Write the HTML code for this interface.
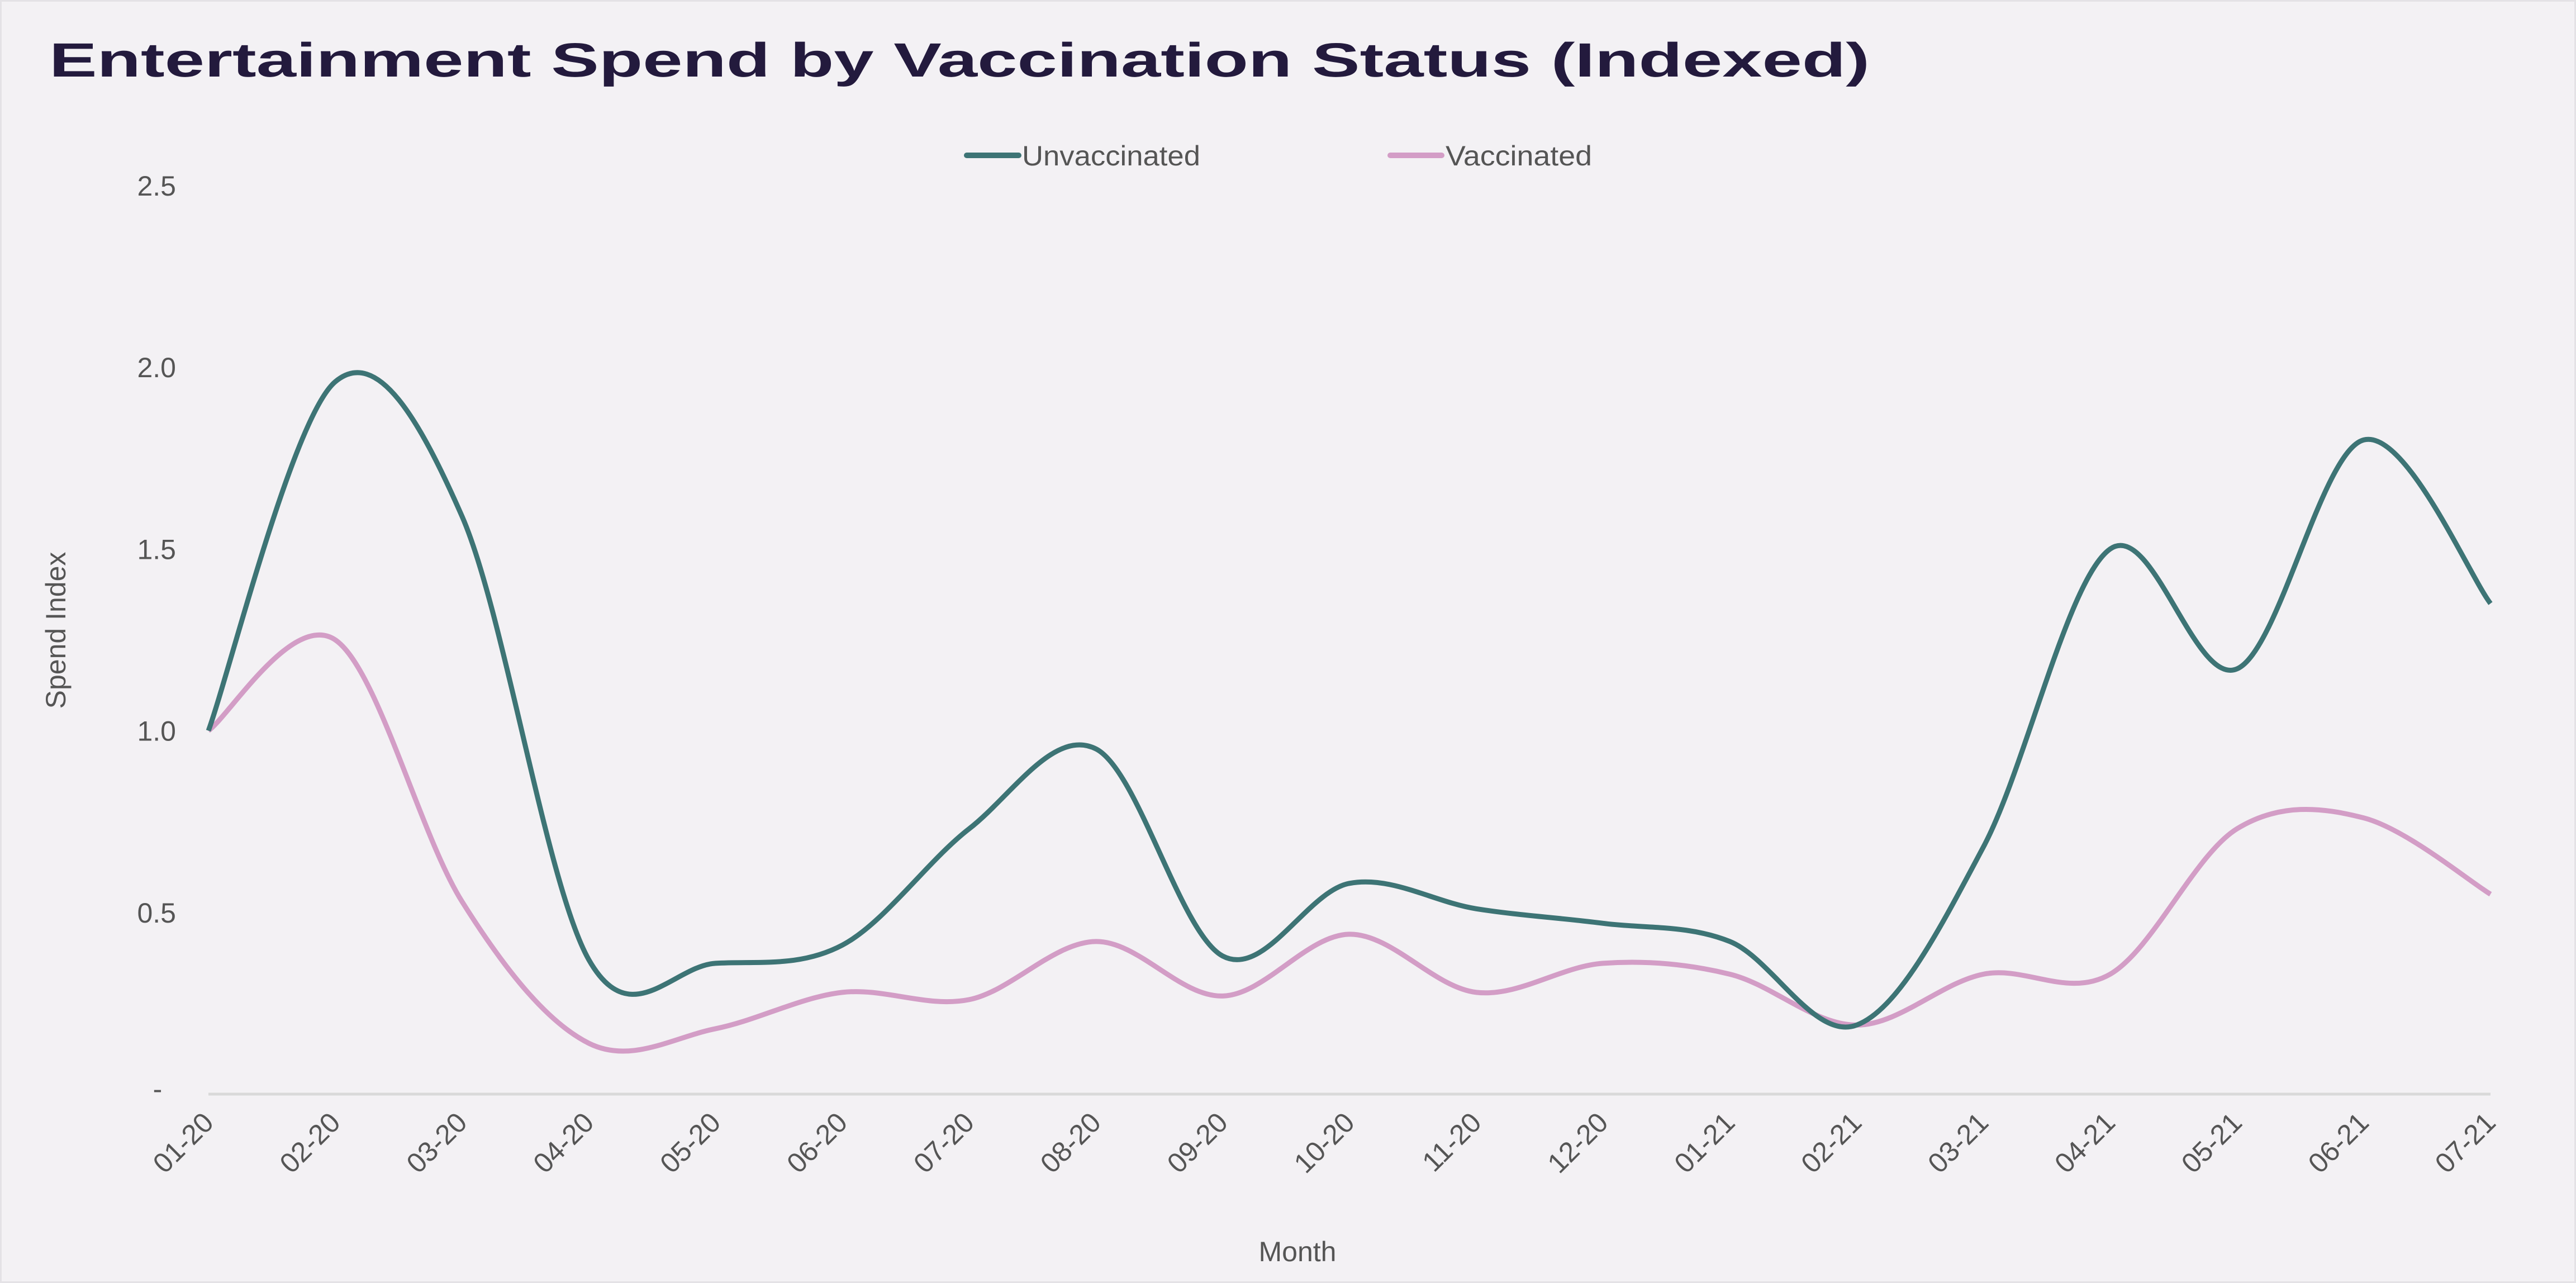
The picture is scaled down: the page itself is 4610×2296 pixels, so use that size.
<!DOCTYPE html>
<html><head><meta charset="utf-8"><style>
html,body{margin:0;padding:0;background:#f3f1f4;}
svg{display:block;font-family:"Liberation Sans",sans-serif;}
</style></head><body>
<svg id="chart" width="4610" height="2296" viewBox="0 0 4610 2296">
<rect x="0" y="0" width="4610" height="2296" fill="#f3f1f4" stroke="#e4e2e6" stroke-width="6"/>
<text x="88" y="137" font-size="86" font-weight="bold" fill="#231a3d" textLength="3258" lengthAdjust="spacingAndGlyphs">Entertainment Spend by Vaccination Status (Indexed)</text>
<g>
<g>
<line x1="1730" y1="278" x2="1823" y2="278" stroke="#3d7475" stroke-width="10" stroke-linecap="round"/>
<text x="1829" y="296" font-size="50" fill="#555" textLength="319" lengthAdjust="spacingAndGlyphs">Unvaccinated</text>
</g>
<g>
<line x1="2488" y1="278" x2="2580" y2="278" stroke="#d39dc6" stroke-width="10" stroke-linecap="round"/>
<text x="2587" y="296" font-size="50" fill="#555" textLength="262" lengthAdjust="spacingAndGlyphs">Vaccinated</text>
</g>
</g>
<g id="yticks"></g>
<g id="xticks"></g>
<line x1="373" y1="1958" x2="4457" y2="1958" stroke="#d9d9d9" stroke-width="5"/>
<g id="series"></g>
<text x="2322" y="2257" font-size="50" fill="#555" text-anchor="middle">Month</text>
<text transform="translate(117,1128) rotate(-90)" font-size="50" fill="#555" text-anchor="middle">Spend Index</text>
</svg>
<script>
const months = ["01-20","02-20","03-20","04-20","05-20","06-20","07-20","08-20","09-20","10-20","11-20","12-20","01-21","02-21","03-21","04-21","05-21","06-21","07-21"];
const unvaccinated = [1.0,1.96,1.59,0.37,0.36,0.41,0.73,0.95,0.38,0.58,0.51,0.47,0.42,0.19,0.68,1.50,1.17,1.80,1.35];
const vaccinated = [1.0,1.25,0.53,0.14,0.18,0.28,0.26,0.42,0.27,0.44,0.28,0.36,0.33,0.19,0.33,0.33,0.73,0.76,0.55];
const yTickValues = [0,0.5,1.0,1.5,2.0,2.5];
const yTickLabels = ["-","0.5","1.0","1.5","2.0","2.5"];

const NS = "http://www.w3.org/2000/svg";
const x0 = 373, x1 = 4457, yBase = 1958, yTop = 332, yMax = 2.5;
function xScale(i){ return x0 + i*(x1-x0)/(months.length-1); }
function yScale(v){ return yBase - v*(yBase-yTop)/yMax; }

const yt = document.getElementById('yticks');
yTickValues.forEach((v,i)=>{
  const t = document.createElementNS(NS,'text');
  t.setAttribute('x', 315);
  t.setAttribute('y', yScale(v) + (i===0 ? 8 : 18));
  t.setAttribute('font-size', 50);
  t.setAttribute('fill', '#555');
  t.setAttribute('text-anchor', i===0 ? 'middle' : 'end');
  if(i===0) t.setAttribute('x', 282);
  t.textContent = yTickLabels[i];
  
  
  yt.appendChild(t);
});

const xt = document.getElementById('xticks');
months.forEach((m,i)=>{
  const t = document.createElementNS(NS,'text');
  const x = xScale(i) + 12, y = 2012;
  t.setAttribute('transform', `translate(${x},${y}) rotate(-45)`);
  t.setAttribute('font-size', 50);
  t.setAttribute('fill', '#555');
  t.setAttribute('text-anchor', 'end');
  t.textContent = m;
  
  
  xt.appendChild(t);
});

function smoothPath(vals){
  const p = vals.map((v,i)=>[xScale(i), yScale(v)]);
  let d = `M${p[0][0]},${p[0][1]}`;
  for(let i=0;i<p.length-1;i++){
    const a = p[Math.max(i-1,0)], b = p[i], c = p[i+1], e = p[Math.min(i+2,p.length-1)];
    const c1x = b[0] + (c[0]-a[0])/6, c1y = b[1] + (c[1]-a[1])/6;
    const c2x = c[0] - (e[0]-b[0])/6, c2y = c[1] - (e[1]-b[1])/6;
    d += ` C${c1x},${c1y} ${c2x},${c2y} ${c[0]},${c[1]}`;
  }
  return d;
}
const sg = document.getElementById('series');
const pv = document.createElementNS(NS,'path');
pv.setAttribute('d', smoothPath(vaccinated));
pv.setAttribute('fill','none'); pv.setAttribute('stroke','#d39dc6'); pv.setAttribute('stroke-width',9);
pv.setAttribute('stroke-linejoin','round');


sg.appendChild(pv);
const pu = document.createElementNS(NS,'path');
pu.setAttribute('d', smoothPath(unvaccinated));
pu.setAttribute('fill','none'); pu.setAttribute('stroke','#3d7475'); pu.setAttribute('stroke-width',9);
pu.setAttribute('stroke-linejoin','round');


sg.appendChild(pu);
</script>
</body></html>
